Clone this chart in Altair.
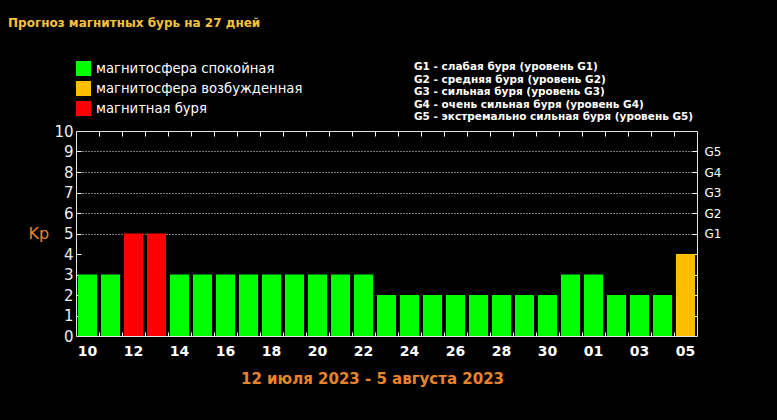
import altair as alt
import pandas as pd

# ---- data ----
days = ["10", "11", "12", "13", "14", "15", "16", "17", "18", "19", "20", "21",
        "22", "23", "24", "25", "26", "27", "28", "29", "30", "31",
        "01", "02", "03", "04", "05"]
kp = [3, 3, 5, 5, 3, 3, 3, 3, 3, 3, 3, 3,
      3, 2, 2, 2, 2, 2, 2, 2, 2, 3,
      3, 2, 2, 2, 4]
status_names = ["магнитосфера спокойная", "магнитосфера возбужденная", "магнитная буря"]
status_colors = ["#00ff00", "#ffbf00", "#ff0000"]
y_ticks = [0, 1, 2, 3, 4, 5, 6, 7, 8, 9, 10]
g_levels = [5, 6, 7, 8, 9]  # Kp levels labelled G1..G5
g_lines = [
    "G1 - слабая буря (уровень G1)",
    "G2 - средняя буря (уровень G2)",
    "G3 - сильная буря (уровень G3)",
    "G4 - очень сильная буря (уровень G4)",
    "G5 - экстремально сильная буря (уровень G5)",
]
title_text = "Прогноз магнитных бурь на 27 дней"
date_text = "12 июля 2023 - 5 августа 2023"

status = [status_names[0] if v < 4 else (status_names[1] if v < 5 else status_names[2]) for v in kp]
df = pd.DataFrame({"day": days, "kp": kp, "status": status})

W, H = 621, 205
ORANGE = "#e8852c"
FONT = "DejaVu Sans"

xsc = alt.Scale(paddingInner=0.17, paddingOuter=0.085)
ysc = alt.Scale(domain=[0, 10], nice=False)
base = alt.Chart(df)

bars = base.mark_bar().encode(
    x=alt.X("day:O", sort=days, scale=xsc,
            axis=alt.Axis(orient="bottom", values=days[::2], labelAngle=0,
                          labelFont=FONT, labelFontSize=14, labelFontWeight="bold",
                          labelColor="white", ticks=False, domain=False, grid=False,
                          labelPadding=8, title=date_text, titleColor=ORANGE,
                          titleFont=FONT, titleFontSize=15, titleFontWeight="bold",
                          titleX=296, titleY=47, titleAlign="center",
                          titleBaseline="alphabetic")),
    y=alt.Y("kp:Q", scale=ysc,
            axis=alt.Axis(orient="left", values=y_ticks, labelFont=FONT,
                          labelFontSize=15, labelColor="#eeeeee", ticks=False,
                          domain=False, labelPadding=3, grid=True,
                          gridColor="white", gridDash=[1, 2], gridWidth=1,
                          gridOpacity={"condition": {"test": "datum.value >= 5 && datum.value <= 9",
                                                     "value": 0.95}, "value": 0},
                          title="Kp", titleColor=ORANGE, titleFont=FONT,
                          titleFontSize=16, titleFontWeight="normal", titleAngle=0,
                          titleX=-48, titleY=107, titleAlign="left",
                          titleBaseline="alphabetic")),
    color=alt.Color("status:N",
                    scale=alt.Scale(domain=status_names, range=status_colors),
                    legend=alt.Legend(title=None, orient="none", legendX=0, legendY=-70,
                                      symbolType="square", symbolSize=225,
                                      symbolStrokeWidth=0, labelColor="white",
                                      labelFont=FONT, labelFontSize=13.2, labelOffset=5,
                                      labelLimit=400, rowPadding=5, padding=0)),
)

# top ticks (inward) and right G axis
top_right = base.mark_bar(opacity=0).encode(
    x=alt.X("day:O", sort=days, scale=xsc,
            axis=alt.Axis(orient="top", values=days[1:], labels=False, domain=False,
                          grid=False, ticks=True, tickSize=5, offset=-5,
                          bandPosition=0, tickOffset=-2, tickColor="white", title=None)),
    y=alt.Y("kp:Q", scale=ysc,
            axis=alt.Axis(orient="right", values=[1, 2, 3, 4] + g_levels,
                          labelExpr="datum.value >= 5 ? 'G' + (datum.value - 4) : ''",
                          tickSize=5, offset=-5, domain=False, grid=False,
                          labelPadding=7, labelColor="white", labelFont=FONT,
                          labelFontSize=12, tickColor="white", title=None)),
)

# bottom ticks and left ticks (inward)
bottom_left = base.mark_bar(opacity=0).encode(
    x=alt.X("day:O", sort=days, scale=xsc,
            axis=alt.Axis(orient="bottom", values=days[1:], labels=False, domain=False,
                          grid=False, ticks=True, tickSize=4, offset=-4,
                          bandPosition=0, tickOffset=-2, tickColor="white", title=None)),
    y=alt.Y("kp:Q", scale=ysc,
            axis=alt.Axis(orient="left", values=list(range(1, 10)), labels=False,
                          tickSize=5, offset=-5, domain=False, grid=False,
                          tickColor="white", title=None)),
)

title_layer = alt.Chart(pd.DataFrame({"t": [title_text]})).mark_text(
    align="left", baseline="alphabetic", font=FONT, fontSize=12, fontWeight="bold",
    color="#f5c33b"
).encode(text="t:N", x=alt.value(-68), y=alt.value(-104))

gdesc_layer = alt.Chart(pd.DataFrame({"t": ["\n".join(g_lines)]})).mark_text(
    align="left", baseline="alphabetic", font=FONT, fontSize=10.5,
    fontWeight="bold", color="white", lineBreak="\n", lineHeight=12.5
).encode(text="t:N", x=alt.value(338), y=alt.value(-61))

chart = alt.layer(bars, top_right, bottom_left, title_layer, gdesc_layer).resolve_axis(
    x="independent", y="independent"
).properties(
    width=W, height=H,
    autosize=alt.AutoSizeParams(type="none"),
    padding={"left": 76, "top": 131, "right": 80, "bottom": 84},
    background="black",
).configure_view(stroke="#e6e6e6", strokeWidth=1)

chart.save("out.html", embed_options={"renderer": "svg", "actions": False})
